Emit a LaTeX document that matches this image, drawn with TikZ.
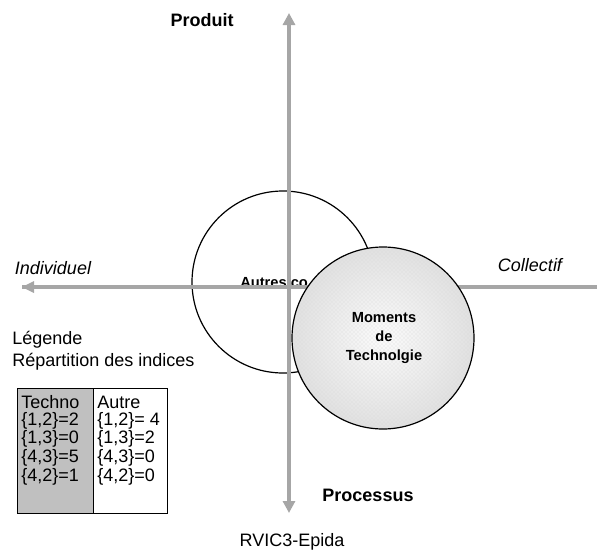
\documentclass[tikz,border=0pt]{standalone}
\usepackage{fontspec}
\setmainfont{Liberation Sans}
\usetikzlibrary{arrows.meta,patterns}
\definecolor{axe}{RGB}{166,166,166}
\definecolor{cellgris}{RGB}{192,192,192}

\begin{document}
\begin{tikzpicture}[x=0.75pt, y=-0.75pt,
	axis/.style={axe, line width=3pt, {Triangle[length=9pt,width=9pt]}-{Triangle[length=9pt,width=9pt]}},
	lbl/.style={inner sep=0pt, font=\fontsize{13.5}{16}\selectfont},
	pole/.style={lbl, font=\fontsize{13.5}{16}\selectfont\bfseries},
	cercle/.style={inner sep=0pt, font=\fontsize{11}{14.6}\selectfont\bfseries, align=center},
	cell/.style={lbl, anchor=west}]

	\useasboundingbox (0,0) rectangle (597,550);

	% cercle "autres"
	\draw[line width=0.9pt, black] (283,282) circle[radius=91];
	\node[cercle, anchor=west] (autres) at (240,283) {Autres co};

	% axes
	\coordinate (haut) at (289,13);
	\coordinate (bas) at (289,513);
	\coordinate (gauche) at (22,287);
	\coordinate (droite) at (597,287);
	\draw[axis] (bas) -- (haut);
	\draw[axis, -] (droite) -- (gauche);
	\fill[axe] (gauche) -- ++(12,-6) -- ++(0,12) -- cycle;

	% cercle "technologie"
	\shade[inner color=gray!3, outer color=gray!24] (383,338) circle[radius=91];
	\fill[pattern=crosshatch dots, pattern color=gray!30] (383,338) circle[radius=91];
	\draw[line width=0.9pt, black] (383,338) circle[radius=91];
	\node[cercle] (techno) at (384,338) {Moments\\de\\Technolgie};

	% poles
	\node[pole] (produit) at (202,20) {Produit};
	\node[pole] (processus) at (368,495) {Processus};
	\node[lbl, font=\fontsize{13.5}{16}\selectfont\itshape] (indiv) at (53,268) {Individuel};
	\node[lbl, font=\fontsize{13.5}{16}\selectfont\itshape] (coll) at (530,265) {Collectif};
	\node[lbl] (source) at (292,542) {RVIC3-Epida};

	% legende
	\node[cell] (leg) at (12,340) {Légende};
	\node[cell] (rep) at (12,362) {Répartition des indices};

	\draw[black, fill=cellgris] (17,388) rectangle (93,513);
	\draw[black, fill=white] (93,388) rectangle (167,513);
	\node[cell] (t0) at (21,402) {Techno};
	\node[cell] (t1) at (21,421) {\{1,2\}=2};
	\node[cell] (t2) at (21,439) {\{1,3\}=0};
	\node[cell] (t3) at (21,458) {\{4,3\}=5};
	\node[cell] (t4) at (21,477) {\{4,2\}=1};
	\node[cell] (a0) at (97,402) {Autre};
	\node[cell] (a1) at (97,421) {\{1,2\}= 4};
	\node[cell] (a2) at (97,439) {\{1,3\}=2};
	\node[cell] (a3) at (97,458) {\{4,3\}=0};
	\node[cell] (a4) at (97,477) {\{4,2\}=0};

\end{tikzpicture}
\end{document}
